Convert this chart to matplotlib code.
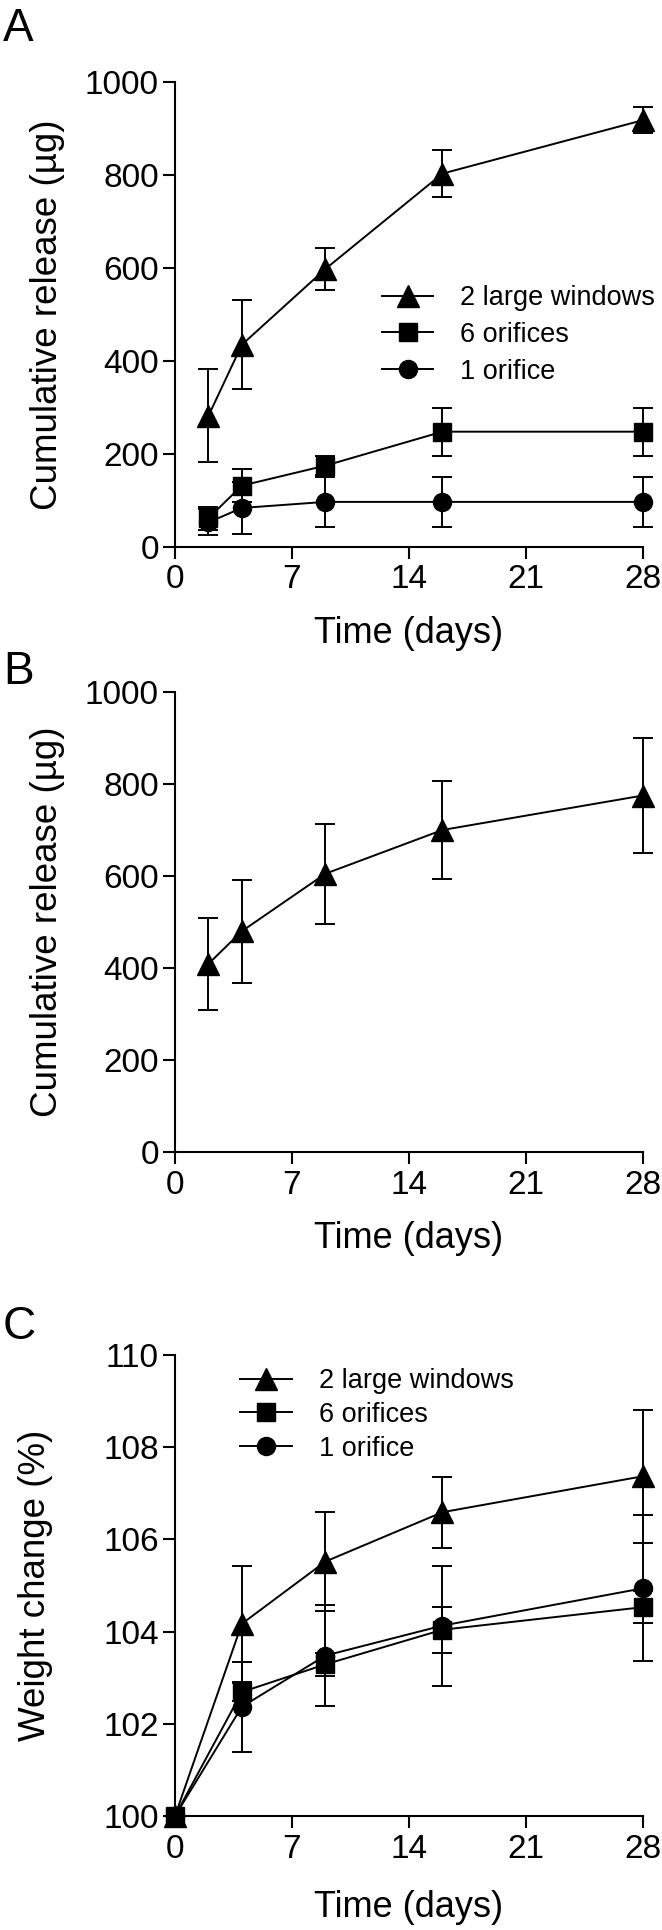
import numpy as np
import matplotlib
matplotlib.use("Agg")
from matplotlib import pyplot as plt

plt.rcParams['font.family'] = ['Liberation Sans', 'DejaVu Sans']

# panel A - cumulative release, three designs
days_a = [2, 4, 9, 16, 28]
win_a = [282, 435, 598, 803, 918]
win_a_err = [100, 96, 45, 50, 28]
six_a = [62, 132, 175, 248, 248]
six_a_err = [25, 35, 20, 52, 52]
one_a = [53, 84, 97, 97, 97]
one_a_err = [28, 55, 53, 53, 53]

# panel B - cumulative release, single series
days_b = [2, 4, 9, 16, 28]
rel_b = [409, 480, 605, 700, 775]
rel_b_err = [100, 112, 109, 106, 126]

# panel C - weight change
days_c = [0, 4, 9, 16, 28]
win_c = [100, 104.17, 105.52, 106.59, 107.37]
win_c_err = [0, 1.26, 1.08, 0.77, 1.44]
six_c = [100, 102.69, 103.29, 104.04, 104.53]
six_c_err = [0, 0.2, 0.25, 0.5, 0.34]
one_c = [100, 102.37, 103.48, 104.13, 104.94]
one_c_err = [0, 0.98, 1.1, 1.3, 1.58]

labels = ['2 large windows', '6 orifices', '1 orifice']
markers = ['^', 's', 'o']
msizes = [16.5, 13, 13]
xticks = [0, 7, 14, 21, 28]

W, H = 662, 1930
fig = plt.figure(figsize=(W / 100, H / 100), dpi=100)


def box(l, t, r, b):
    return [l / W, (H - b) / H, (r - l) / W, (b - t) / H]


def style(ax, ylim, yticks, ylabel, ylab_x, xlab_y):
    ax.set_xlim(0, 28)
    ax.set_ylim(*ylim)
    ax.set_xticks(xticks)
    ax.set_yticks(yticks)
    for s in ['top', 'right']:
        ax.spines[s].set_visible(False)
    for s in ['left', 'bottom']:
        ax.spines[s].set_linewidth(1.5)
    ax.tick_params(direction='out', length=8.6, width=1.5, labelsize=24)
    ax.tick_params(axis='x', pad=4)
    ax.tick_params(axis='y', pad=3)
    ax.set_xlabel('Time (days)', fontsize=26)
    ax.set_ylabel(ylabel, fontsize=26.5)
    ax.yaxis.set_label_coords(ylab_x, 0.5)
    ax.xaxis.set_label_coords(0.5, xlab_y)


def series(ax, x, y, e, i):
    ax.errorbar(x, y, yerr=e, color='black', marker=markers[i], ms=msizes[i], lw=1.4,
                elinewidth=1.4, capsize=7.2, capthick=1.4, clip_on=False, zorder=3)


def legend(ax, anchor, spacing):
    handles = [ax.plot([], [], color='black', lw=1.4, marker=markers[i], ms=msizes[i])[0]
               for i in range(3)]
    ax.legend(handles, labels, frameon=False, fontsize=19.5, loc='center left',
              bbox_to_anchor=anchor, handlelength=1.9, labelspacing=spacing,
              handletextpad=1.0, borderpad=0, borderaxespad=0, numpoints=1)


axA = fig.add_axes(box(175, 82, 643, 547))
series(axA, days_a, win_a, win_a_err, 0)
series(axA, days_a, six_a, six_a_err, 1)
series(axA, days_a, one_a, one_a_err, 2)
style(axA, (0, 1000), [0, 200, 400, 600, 800, 1000], 'Cumulative release (µg)', -0.235, -0.148)
legend(axA, (0.442, 0.456), 0.4)
fig.text(3 / W, (H - 41) / H, 'A', fontsize=33, va='baseline', ha='left')

axB = fig.add_axes(box(175, 692, 643, 1152))
series(axB, days_b, rel_b, rel_b_err, 0)
style(axB, (0, 1000), [0, 200, 400, 600, 800, 1000], 'Cumulative release (µg)', -0.235, -0.15)
fig.text(3 / W, (H - 684) / H, 'B', fontsize=33, va='baseline', ha='left')

axC = fig.add_axes(box(175, 1355, 643, 1816))
series(axC, days_c, win_c, win_c_err, 0)
series(axC, days_c, six_c, six_c_err, 1)
series(axC, days_c, one_c, one_c_err, 2)
style(axC, (100, 110), [100, 102, 104, 106, 108, 110], 'Weight change (%)', -0.261, -0.16)
legend(axC, (0.139, 0.87), 0.28)
fig.text(3 / W, (H - 1339) / H, 'C', fontsize=33, va='baseline', ha='left')

fig.savefig('out.png', dpi=100)
